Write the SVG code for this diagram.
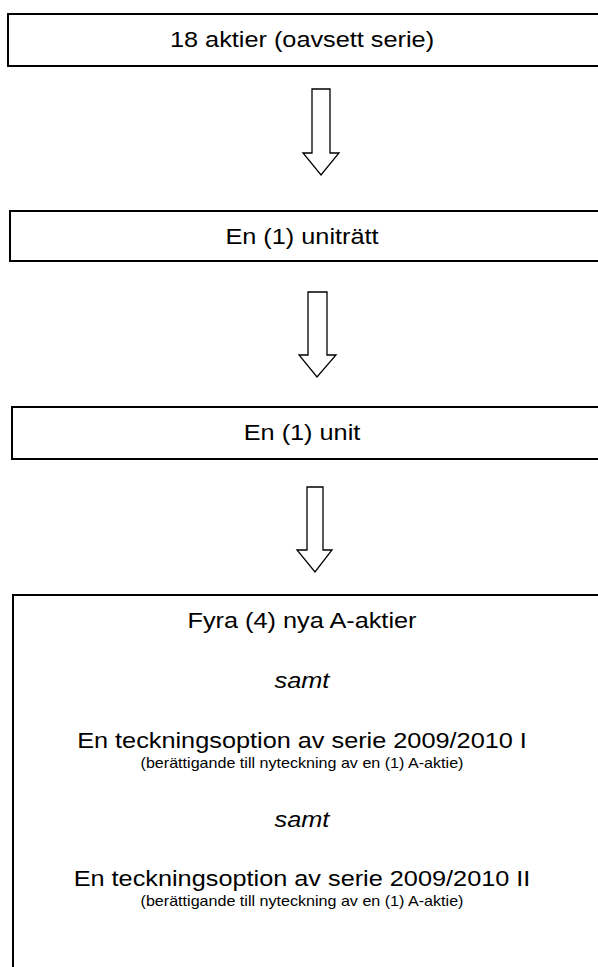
<svg xmlns="http://www.w3.org/2000/svg" width="598" height="967" viewBox="0 0 598 967">
<style>
.box{fill:#fff;stroke:#000;stroke-width:2}
.arr{fill:#fff;stroke:#000;stroke-width:1.3;stroke-linejoin:miter}
.t{font-family:"Liberation Sans",Arial,sans-serif;font-size:22px;fill:#000;text-anchor:middle}
.s{font-family:"Liberation Sans",Arial,sans-serif;font-size:14px;fill:#000;text-anchor:middle}
.i{font-style:italic}
</style>
<rect width="598" height="967" fill="#fff"/>
<g id="connectors">
<path class="arr" d="M312 89 H330 V153 H339 L321 175 L303 153 H312 Z"/>
<path class="arr" d="M308 292 H327 V355 H336 L317 377 L299 355 H308 Z"/>
<path class="arr" d="M307 487 H323 V550 H332 L315 572 L297 550 H307 Z"/>
</g>
<g id="n1">
<rect class="box" x="8" y="14" width="600" height="52"/>
<text class="t" transform="translate(302,47) scale(1.15,1)">18 aktier (oavsett serie)</text>
</g>
<g id="n2">
<rect class="box" x="10" y="211" width="600" height="50"/>
<text class="t" transform="translate(302,244) scale(1.15,1)">En (1) uniträtt</text>
</g>
<g id="n3">
<rect class="box" x="12" y="407" width="600" height="52"/>
<text class="t" transform="translate(302,440) scale(1.15,1)">En (1) unit</text>
</g>
<g id="n4">
<rect class="box" x="13" y="595" width="600" height="380"/>
<text class="t" transform="translate(302,628) scale(1.15,1)">Fyra (4) nya A-aktier</text>
<text class="t i" transform="translate(302,688) scale(1.15,1)">samt</text>
<text class="t" transform="translate(302,748) scale(1.15,1)">En teckningsoption av serie 2009/2010 I</text>
<text class="s" transform="translate(302,768) scale(1.15,1)">(berättigande till nyteckning av en (1) A-aktie)</text>
<text class="t i" transform="translate(302,827) scale(1.15,1)">samt</text>
<text class="t" transform="translate(302,886) scale(1.15,1)">En teckningsoption av serie 2009/2010 II</text>
<text class="s" transform="translate(302,906) scale(1.15,1)">(berättigande till nyteckning av en (1) A-aktie)</text>
</g>
</svg>
